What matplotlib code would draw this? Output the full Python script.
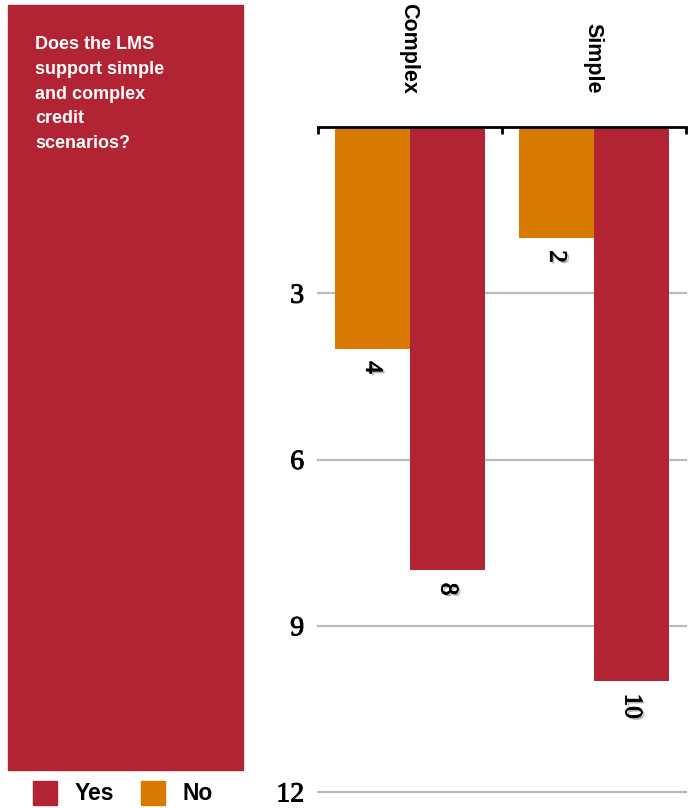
import numpy as np
import matplotlib
matplotlib.use("Agg")
import matplotlib.pyplot as plt
import matplotlib.patheffects as pe
from matplotlib.patches import Rectangle

# Data
categories = ["Complex", "Simple"]
no_values = [4, 2]
yes_values = [8, 10]
y_ticks = [3, 6, 9, 12]

title_text = "Does the LMS\nsupport simple\nand complex\ncredit\nscenarios?"

red = "#B22433"
orange = "#D87A00"

fig = plt.figure(figsize=(6.97, 8.08), dpi=100)
W, H = 697, 808

# Left red panel with question text
fig.patches.append(Rectangle((8 / W, 1 - 770 / H), 235 / W, 765 / H,
                             transform=fig.transFigure, color=red, zorder=0))
fig.text(35 / W, 1 - 36 / H, title_text, color="white", fontsize=13,
         fontweight="bold", family="Liberation Sans", va="top", ha="left",
         linespacing=1.6)

# Legend
fig.patches.append(Rectangle((33 / W, 1 - 805 / H), 24 / W, 24 / H,
                             transform=fig.transFigure, color=red))
fig.text(75 / W, 1 - 794 / H, "Yes", fontsize=16.5, fontweight="bold",
         family="Liberation Sans", va="center", ha="left")
fig.patches.append(Rectangle((141 / W, 1 - 805 / H), 24 / W, 24 / H,
                             transform=fig.transFigure, color=orange))
fig.text(183 / W, 1 - 794 / H, "No", fontsize=16.5, fontweight="bold",
         family="Liberation Sans", va="center", ha="left")

# Main chart
ax = fig.add_axes([318 / W, 16 / H, 368 / W, 665 / H])
x = np.arange(len(categories))
bw = 0.41
bars_no = ax.bar(x - bw / 2, no_values, bw, color=orange, zorder=3)
bars_yes = ax.bar(x + bw / 2, yes_values, bw, color=red, zorder=3)

ax.set_xlim(-0.5, 1.5)
ax.set_ylim(12, 0)

for s in ["left", "right", "bottom"]:
    ax.spines[s].set_visible(False)
ax.spines["top"].set_linewidth(2)
ax.spines["top"].set_zorder(4)

ax.set_xticks([-0.5, 0.5, 1.5])
ax.set_xticklabels([])
ax.tick_params(axis="x", top=True, bottom=False, direction="in", length=5, width=2)

ax.set_yticks(y_ticks)
ax.set_yticklabels([str(t) for t in y_ticks], family="Liberation Serif", fontsize=20)
for lab in ax.get_yticklabels():
    lab.set_path_effects([pe.withStroke(linewidth=0.7, foreground="black")])
ax.tick_params(axis="y", length=0, pad=10)
ax.yaxis.grid(True, color="#BBBBBB", linewidth=1.6)
ax.set_axisbelow(True)
for line in ax.get_ygridlines():
    line.set_clip_on(False)

# Category labels above the axis
for xi, cat in zip(x, categories):
    ax.annotate(cat, (xi, 0), xytext=(-1, 24), textcoords="offset points",
                rotation=270, ha="center", va="bottom", fontsize=15.5,
                fontweight="bold", family="Liberation Sans", annotation_clip=False)

# Value labels below each bar
shadow = [pe.withSimplePatchShadow(offset=(1.5, -1.5), shadow_rgbFace="#555555", alpha=0.45),
          pe.withStroke(linewidth=0.6, foreground="black")]
for bars, vals in [(bars_no, no_values), (bars_yes, yes_values)]:
    for b, v in zip(bars, vals):
        ax.annotate(str(v), (b.get_x() + b.get_width() / 2, v), xytext=(0, -9),
                    textcoords="offset points", rotation=270, ha="center", va="top",
                    fontsize=18, family="Liberation Serif", path_effects=shadow)

fig.savefig("out.png", dpi=100)
